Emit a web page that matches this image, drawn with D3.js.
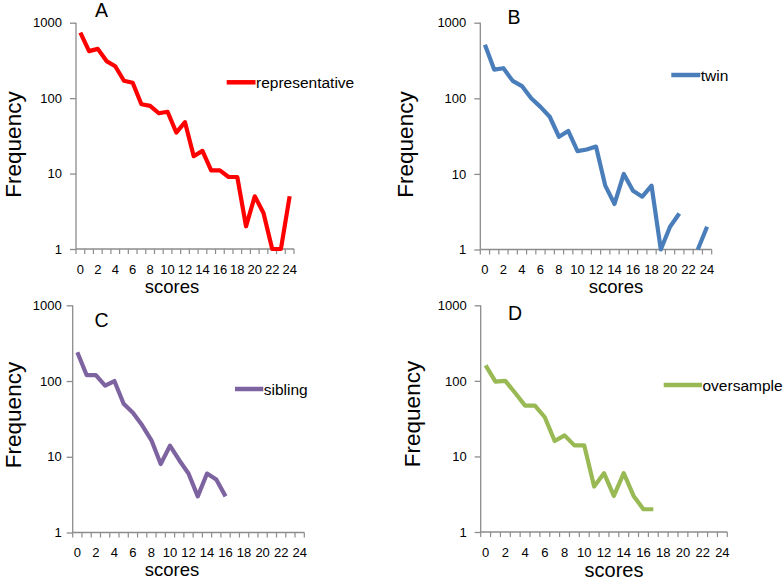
<!DOCTYPE html>
<html>
<head>
<meta charset="utf-8">
<script src="https://cdn.jsdelivr.net/npm/d3@7/dist/d3.min.js"></script>
<style>
  html, body { margin: 0; padding: 0; background: #fff; }
  svg { display: block; }
  text { font-family: "Liberation Sans", Arial, sans-serif; fill: #000; }
</style>
</head>
<body>
<svg id="chart" width="784" height="579"></svg>
<script>
// ---------- data ----------
const scores = [0,1,2,3,4,5,6,7,8,9,10,11,12,13,14,15,16,17,18,19,20,21,22,23,24];
const scoreLabels = [0,2,4,6,8,10,12,14,16,18,20,22,24];
const freqTicks = [1,10,100,1000];

const representative = [740,420,450,310,265,170,160,83,79,63,66,35,48,17,20,11,11,9,9,2,5,3,1,1,5];
const twin = [510,240,250,170,145,100,77,57,31,37,20,21,23,7,4,10,6,5,7,1,2,3,null,1,2];
const sibling = [240,120,120,87,100,50,38,26,16.5,8,14,9,6,3,6,5,3,null,null,null,null,null,null,null,null];
const oversample = [160,98,100,69,47,47,33,16,19,14,14,4,6,3,6,3,2,2,null,null,null,null,null,null,null];

const panelLetters = ["A","B","C","D"];
const seriesNames = ["representative","twin","sibling","oversample"];
const seriesValues = [representative, twin, sibling, oversample];
const seriesColors = ["#ff0000","#4a7ebb","#7e63a1","#98b954"];

// ---------- layout ----------
const layouts = [
  {x0:76,  x1:294,   yTop:22.7,  yBot:249,  tickGap:14, xlabY:269.5,
   letter:{x:101.5,y:16.7}, freq:{x:20.5,y:144.5}, scores:{x:172,y:293,fs:18.5},
   leg:{x0:226.7,x1:255.5,y:82.3}},
  {x0:480.3,x1:711.7,yTop:22.7,  yBot:249.5,tickGap:14, xlabY:269.5,
   letter:{x:514,y:24},     freq:{x:413,y:144.5}, scores:{x:616,y:293,fs:18.5},
   leg:{x0:671.3,x1:700.3,y:75}},
  {x0:72.7, x1:304.3,yTop:305.3, yBot:532.5,tickGap:11, xlabY:552,
   letter:{x:101.5,y:326.7},freq:{x:20.5,y:415}, scores:{x:172,y:576,fs:18.5},
   leg:{x0:235,x1:263.3,y:389}},
  {x0:480.7,x1:727.3,yTop:305.3, yBot:532,  tickGap:14, xlabY:552,
   letter:{x:515,y:320},    freq:{x:420,y:414},   scores:{x:614,y:576.5,fs:20},
   leg:{x0:663.7,x1:702,y:385}}
];

const svg = d3.select("#chart");
const axisColor = "#8c8c8c";

layouts.forEach((L, i) => {
  const g = svg.append("g");
  const x = d3.scaleBand().domain(scores).range([L.x0, L.x1]).paddingInner(0).paddingOuter(0);
  const y = d3.scaleLog().domain([1, 1000]).range([L.yBot, L.yTop]);
  const cx = d => x(d) + x.bandwidth() / 2;

  // y axis
  const ya = g.append("g").attr("transform", `translate(${L.x0},0)`)
    .call(d3.axisLeft(y).tickValues(freqTicks).tickFormat(d3.format("d")).tickSize(6).tickPadding(L.tickGap - 6));
  ya.select(".domain").attr("stroke", axisColor).attr("stroke-width", 1.3).attr("d", `M0,${L.yTop}V${L.yBot}`);
  ya.selectAll(".tick line").attr("stroke", axisColor).attr("stroke-width", 1.3);
  ya.selectAll(".tick text").style("font-size", "13px").style("font-family", '"Liberation Sans", Arial, sans-serif').attr("fill", "#000");

  // x axis labels
  const xa = g.append("g").attr("transform", `translate(0,${L.yBot})`)
    .call(d3.axisBottom(x).tickValues(scoreLabels).tickSize(0).tickPadding(0));
  xa.select(".domain").remove();
  xa.selectAll(".tick text").attr("dy", null).attr("y", L.xlabY - L.yBot + 4.5)
    .style("font-size", "13px").style("font-family", '"Liberation Sans", Arial, sans-serif').attr("fill", "#000");

  // x axis line and boundary ticks
  g.append("line").attr("x1", L.x0).attr("x2", L.x1).attr("y1", L.yBot).attr("y2", L.yBot)
    .attr("stroke", axisColor).attr("stroke-width", 1.3);
  const bounds = scores.map(s => x(s)).concat([x(scores[scores.length - 1]) + x.bandwidth()]);
  g.selectAll(".xt").data(bounds).join("line")
    .attr("x1", d => d).attr("x2", d => d).attr("y1", L.yBot).attr("y2", L.yBot + 5)
    .attr("stroke", axisColor).attr("stroke-width", 1.2);

  // series line
  const vals = seriesValues[i];
  const data = scores.map((s, k) => ({s, v: vals[k]}));
  const line = d3.line().defined(d => d.v != null && d.v > 0)
    .x(d => cx(d.s)).y(d => y(d.v));
  g.append("path").datum(data).attr("d", line)
    .attr("fill", "none").attr("stroke", seriesColors[i]).attr("stroke-width", 4.2)
    .attr("stroke-linejoin", "round").attr("stroke-linecap", "butt");

  // legend
  g.append("line").attr("x1", L.leg.x0).attr("x2", L.leg.x1).attr("y1", L.leg.y).attr("y2", L.leg.y)
    .attr("stroke", seriesColors[i]).attr("stroke-width", 4.5);
  g.append("text").attr("x", L.leg.x1 + 0.5).attr("y", L.leg.y + 5.5)
    .style("font-size", "15.5px").text(seriesNames[i]);

  // panel letter
  g.append("text").attr("x", L.letter.x).attr("y", L.letter.y).attr("text-anchor", "middle")
    .style("font-size", "19.5px").text(panelLetters[i]);

  // axis titles
  g.append("text").attr("transform", `translate(${L.freq.x},${L.freq.y}) rotate(-90)`)
    .attr("text-anchor", "middle").style("font-size", "22.5px").text("Frequency");
  g.append("text").attr("x", L.scores.x).attr("y", L.scores.y).attr("text-anchor", "middle")
    .style("font-size", L.scores.fs + "px").text("scores");
});
</script>
</body>
</html>
